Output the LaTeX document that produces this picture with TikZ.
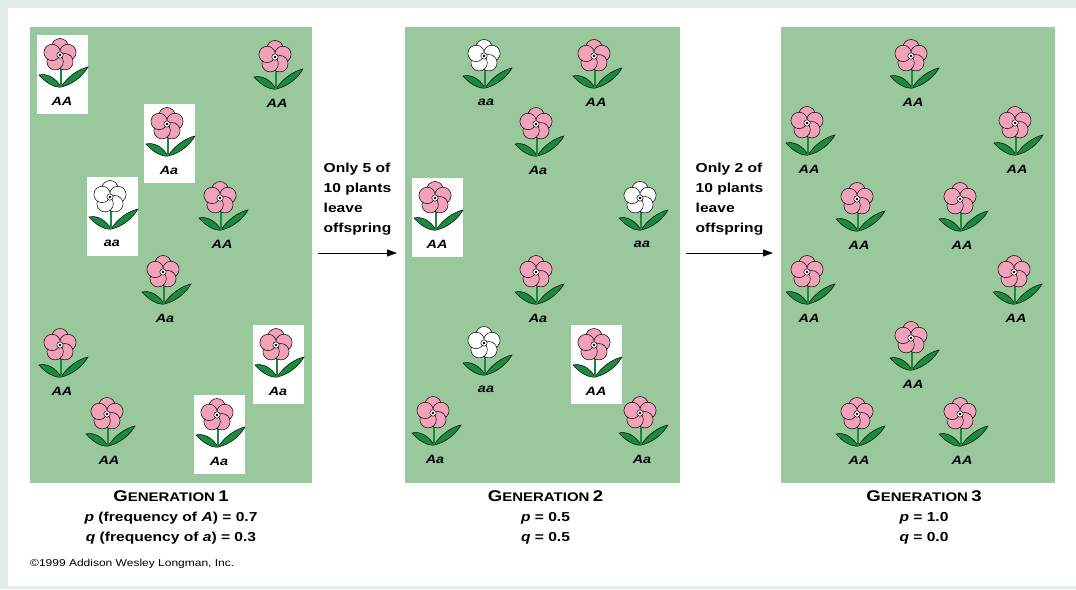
\documentclass[tikz,border=0pt]{standalone}
\usepackage{fontspec}
\setmainfont{Liberation Sans}[FakeStretch=1.2]
\usetikzlibrary{positioning,arrows.meta}

\definecolor{FrameGray}{RGB}{227,235,232}
\definecolor{PanelGreen}{RGB}{152,200,156}
\definecolor{PetalPink}{RGB}{242,162,184}
\definecolor{LeafGreen}{RGB}{26,138,62}

% small-caps heading under each field
\newcommand{\GenHead}[1]{{\fontsize{15.5}{15}\selectfont G}{\fontsize{12.5}{12}\selectfont ENERATION}~{\fontsize{15.5}{15}\selectfont #1}}

\tikzset{
  % green field of one generation
  panel/.style={
    rectangle,
    fill=PanelGreen,
    minimum width=280pt,
    minimum height=456pt,
    inner sep=0pt,
    outer sep=0pt
  },
  % genotype under a flower
  geno/.style={
    font=\fontsize{12}{12}\selectfont\bfseries\itshape,
    inner sep=0pt
  },
  % text over the arrows
  note/.style={
    font=\fontsize{13}{20}\selectfont\bfseries,
    align=left,
    inner sep=0pt
  },
  % caption lines
  gtitle/.style={font=\bfseries, anchor=base, inner sep=0pt},
  freq/.style={font=\fontsize{13}{13}\selectfont\bfseries, anchor=base, inner sep=0pt},
  arrow/.style={
    draw=black,
    line width=0.9pt,
    -{Triangle[length=10pt,width=7pt]}
  },
  petal/.style={draw=black, line width=0.5pt},
  leaf/.style={draw=black, fill=LeafGreen, line width=0.5pt},
  stem/.style={draw=black, line width=0.5pt, double=LeafGreen, double distance=1.4pt},
  % one flower: petal colour, genotype, card colour
  pics/bloom/.style n args={3}{code={
    \path[fill=#3] (-23,-20) rectangle (28,59);
    \draw[leaf] (1,32) .. controls (-4,23) and (-13,18) .. (-21,20)
                       .. controls (-15,27) and (-6,33) .. cycle;
    \draw[leaf] (1,32) .. controls (8,21) and (19,14) .. (28,12)
                       .. controls (23,21) and (12,30) .. cycle;
    \draw[stem] (1,12) -- (1,32);
    \foreach \a in {-90,-18,54,126,198}
      \draw[petal, fill=#1] (\a:8.3) circle (8.2pt);
    \draw[petal, fill=white] (0,0) circle (3.2pt);
    \fill (0,0) circle (1.3pt);
    \node[geno] (-lab) at (2,46) {#2};
  }}
}

\begin{document}
\begin{tikzpicture}[x=1pt, y=-1pt]
  \useasboundingbox (0,0) rectangle (1076,589);
  \fill[FrameGray] (0,0) rectangle (1076,589);
  \fill[white] (8,8) rectangle (1076,586);

  % the three generations
  \node[panel, minimum width=282pt] (gen1) at (171,255) {};
  \node[panel, minimum width=275pt] (gen2) at (542.5,255) {};
  \node[panel, minimum width=274pt] (gen3) at (918,255) {};

  % generation 1
  \foreach \n/\px/\py/\col/\gt/\card in {
    a1/60/55/PetalPink/AA/white,
    a2/275/57/PetalPink/AA/none,
    a3/167/124/PetalPink/Aa/white,
    a4/110/197/white/aa/white,
    a5/220/198/PetalPink/AA/none,
    a6/163/272/PetalPink/Aa/none,
    a7/60/345/PetalPink/AA/none,
    a8/276/345/PetalPink/Aa/white,
    a9/107/414/PetalPink/AA/none,
    a10/217/415/PetalPink/Aa/white}
    \pic (\n) at (\px,\py) {bloom={\col}{\gt}{\card}};

  % generation 2
  \foreach \n/\px/\py/\col/\gt/\card in {
    b1/484/56/white/aa/none,
    b2/594/56/PetalPink/AA/none,
    b3/536/124/PetalPink/Aa/none,
    b4/435/198/PetalPink/AA/white,
    b5/640/198/white/aa/none,
    b6/536/272/PetalPink/Aa/none,
    b7/484/343/white/aa/none,
    b8/594/345/PetalPink/AA/white,
    b9/433/413/PetalPink/Aa/none,
    b10/640/413/PetalPink/Aa/none}
    \pic (\n) at (\px,\py) {bloom={\col}{\gt}{\card}};

  % generation 3
  \foreach \n/\px/\py in {
    c1/911/56, c2/807/123, c3/1015/123, c4/857/199, c5/960/199,
    c6/807/272, c7/1014/272, c8/911/338, c9/857/414, c10/960/414}
    \pic (\n) at (\px,\py) {bloom={PetalPink}{AA}{none}};

  % selection between generations
  \draw[arrow] ([xshift=6pt,yshift=2pt]gen1.east) -- ([xshift=-8pt,yshift=2pt]gen2.west)
    node[note, midway, above=17pt] (sel1) {Only 5 of\\10 plants\\leave\\offspring};
  \draw[arrow] ([xshift=6pt,yshift=2pt]gen2.east) -- ([xshift=-8pt,yshift=2pt]gen3.west)
    node[note, midway, above=17pt] (sel2) {Only 2 of\\10 plants\\leave\\offspring};

  % captions
  \node[gtitle] (t1) at ([yshift=-18pt]gen1.south) {\GenHead{1}};
  \node[freq, below=20pt of t1.base, anchor=base] (p1) {\textit{p} (frequency of \textit{A}) = 0.7};
  \node[freq, below=20pt of p1.base, anchor=base] (q1) {\textit{q} (frequency of \textit{a}) = 0.3};

  \node[gtitle] (t2) at ([xshift=3pt,yshift=-18pt]gen2.south) {\GenHead{2}};
  \node[freq, below=20pt of t2.base, anchor=base] (p2) {\textit{p} = 0.5};
  \node[freq, below=20pt of p2.base, anchor=base] (q2) {\textit{q} = 0.5};

  \node[gtitle] (t3) at ([xshift=6pt,yshift=-18pt]gen3.south) {\GenHead{3}};
  \node[freq, below=20pt of t3.base, anchor=base] (p3) {\textit{p} = 1.0};
  \node[freq, below=20pt of p3.base, anchor=base] (q3) {\textit{q} = 0.0};

  \node[font=\fontsize{10}{10}\selectfont, anchor=base west, inner sep=0pt] (copy) at (30,566) {©1999 Addison Wesley Longman, Inc.};
\end{tikzpicture}
\end{document}
